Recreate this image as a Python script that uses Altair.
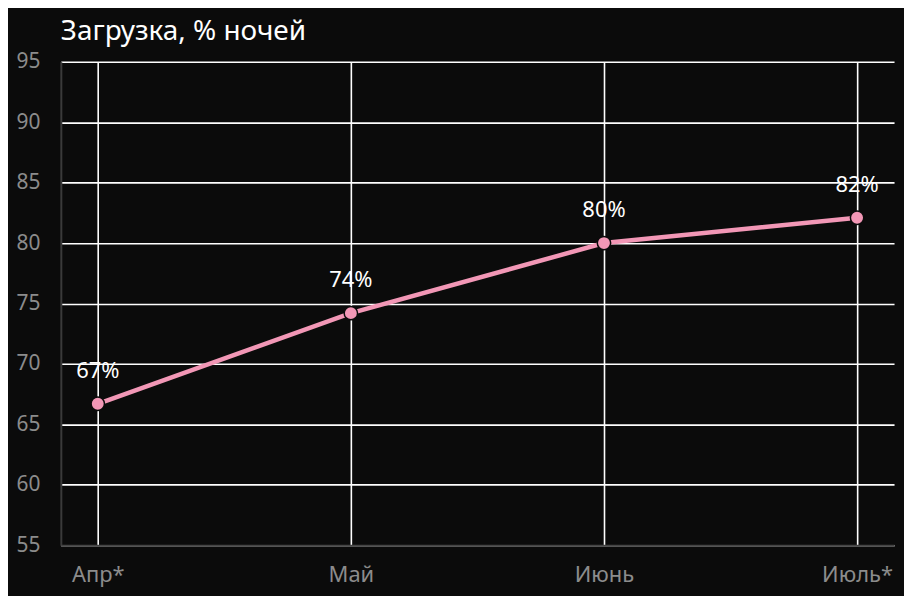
import altair as alt
import pandas as pd

months = ["Апр*", "Май", "Июнь", "Июль*"]
occupancy = [66.7, 74.2, 80.0, 82.1]
labels = ["67%", "74%", "80%", "82%"]

df = pd.DataFrame({"month": months, "value": occupancy, "label": labels})

FONT = "Noto Sans"
PINK = "#f297b6"
BG = "#0b0b0b"

x_enc = alt.X("month:N", sort=months,
              scale=alt.Scale(type="point", padding=0.146),
              axis=alt.Axis(title=None, labelAngle=0, labelFontSize=22, labelColor="#8c8c8c",
                            labelFont=FONT, labelPadding=19, ticks=False,
                            domain=True, domainColor="#444444", domainWidth=2,
                            grid=True, gridColor="#ffffff", gridWidth=1.6))
y_enc = alt.Y("value:Q", scale=alt.Scale(domain=[55, 95], nice=False, zero=False),
              axis=alt.Axis(title=None, values=[55, 60, 65, 70, 75, 80, 85, 90, 95],
                            labelFontSize=21, labelColor="#8c8c8c", labelFont=FONT,
                            labelPadding=21, ticks=False,
                            domain=True, domainColor="#3a3a3a", domainWidth=2,
                            grid=True, gridColor="#ffffff", gridWidth=1.6))

base = alt.Chart(df)
line = base.mark_line(color=PINK, strokeWidth=4.5).encode(x=x_enc, y=y_enc)
pts = base.mark_point(filled=True, color=PINK, size=180, opacity=1,
                      stroke=BG, strokeWidth=1.5).encode(x=x_enc, y=y_enc)
txt = base.mark_text(color="#ffffff", fontSize=22, font=FONT, dy=-33).encode(
    x=x_enc, y=y_enc, text="label:N")

chart = alt.layer(line, pts, txt).properties(
    width=836, height=485,
    background=BG,
    padding={"left": 53, "top": 53, "right": 10, "bottom": 50},
    autosize=alt.AutoSizeParams(type="none"),
    title=alt.TitleParams("Загрузка, % ночей", anchor="start", frame="group", font=FONT,
                          fontSize=28, fontWeight="normal", color="#ffffff", offset=5),
).configure_view(stroke=None)

chart.save("out.html", embed_options={"renderer": "svg", "actions": False})
